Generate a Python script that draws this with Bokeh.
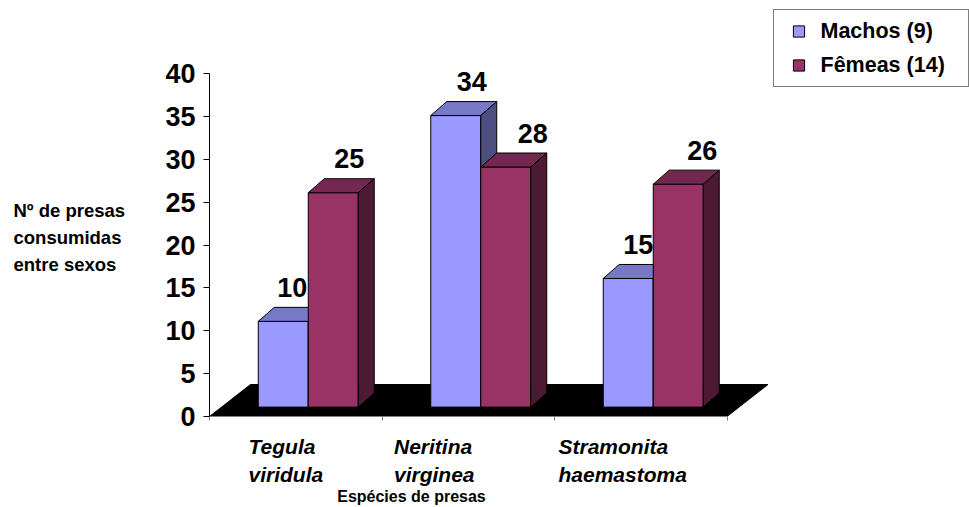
from bokeh.plotting import figure
from bokeh.models import (Range1d, FixedTicker, ColumnDataSource, Label, LabelSet,
                          Legend, LegendItem, LinearAxis)
from bokeh.core.properties import value
from bokeh.embed import file_html
from bokeh.resources import INLINE

# ---- data -------------------------------------------------------------
categories = ["Tegula\nviridula", "Neritina\nvirginea", "Stramonita\nhaemastoma"]
machos = [10, 34, 15]
femeas = [25, 28, 26]
series = ["Machos (9)", "Fêmeas (14)"]
y_ticks = [0, 5, 10, 15, 20, 25, 30, 35, 40]
y_title = ["Nº de presas", "consumidas", "entre sexos"]
x_title = "Espécies de presas"

# ---- layout (pixels) --------------------------------------------------
W, H = 969, 507
ORIGIN_X, ORIGIN_Y = 209, 416   # where the two axes meet on the canvas
PX_CAT = 172.5                  # pixels per category slot
PX_VAL = 8.575                  # pixels per count unit


def dx(px):
    return px / PX_CAT


def dy(px):
    return px / PX_VAL


FONT = "Liberation Sans"
MID = 0.3465                    # "middle" baseline sits this many em above the alphabetic one
MALE = ("#9999FF", "#7878C8", "#4E4E80")     # front, top, side
FEMALE = ("#993366", "#74284F", "#4D1A33")

bar_w = dx(50)
shift_x = dx(12.5)
lift = dy(9.4)
depth_x, depth_y = dx(16), dy(14)
floor_x, floor_y = dx(41), dy(32)
label_gap = dy(10.5)
label_nudge = {"m": [9, 16, 10], "f": [16, 27, 24]}   # px right of the face centre
cat_label_dx = [39, 12, 4]                            # px right of the slot start

n = len(categories)
idx = list(range(n))

p = figure(width=W, height=H, output_backend="svg", toolbar_location=None,
           x_axis_location=None, y_axis_location=None,
           x_range=Range1d(-dx(ORIGIN_X), dx(W - ORIGIN_X)),
           y_range=Range1d(-dy(H - ORIGIN_Y), dy(ORIGIN_Y)),
           min_border=0)
p.outline_line_color = None
p.grid.visible = False
p.background_fill_color = "white"
p.border_fill_color = "white"

# value axis, standing at the first category boundary
yaxis = LinearAxis(fixed_location=0, ticker=FixedTicker(ticks=y_ticks),
                   bounds=(y_ticks[0], y_ticks[-1]))
yaxis.axis_line_color = "black"
yaxis.major_tick_line_color = "black"
yaxis.major_tick_out = 6
yaxis.major_tick_in = 0
yaxis.minor_tick_line_color = None
yaxis.major_label_standoff = 8
yaxis.major_label_text_font = FONT
yaxis.major_label_text_font_style = "bold"
yaxis.major_label_text_font_size = "27px"
yaxis.major_label_text_color = "black"
p.add_layout(yaxis, "left")

# category axis: boundary ticks only
xaxis = LinearAxis(fixed_location=0,
                   ticker=FixedTicker(ticks=[], minor_ticks=list(range(n + 1))),
                   bounds=(0, n))
xaxis.axis_line_color = "#808080"
xaxis.minor_tick_line_color = "#808080"
xaxis.minor_tick_out = 4
xaxis.minor_tick_in = 0
xaxis.major_tick_line_color = None
p.add_layout(xaxis, "below")

# floor of the 3D box
p.patch(x=[0, n, n + floor_x, floor_x], y=[0, 0, floor_y, floor_y],
        fill_color="black", line_color="black")


def draw_bars(vals, colors, side, key, name):
    left = [i + 0.5 + shift_x - (bar_w if side < 0 else 0) for i in idx]
    right = [l + bar_w for l in left]
    bottom = [lift] * n
    top = [lift + v for v in vals]
    # legend swatch, hidden behind the front faces
    swatch = p.scatter(x=[(l + r) / 2 for l, r in zip(left, right)],
                       y=[(b + t) / 2 for b, t in zip(bottom, top)],
                       marker="square", size=11, fill_color=colors[0],
                       line_color="black", line_width=1)
    p.quad(left=left, right=right, bottom=bottom, top=top,
           fill_color=colors[0], line_color="black", line_width=1)
    p.patches(xs=[[l, r, r + depth_x, l + depth_x] for l, r in zip(left, right)],
              ys=[[t, t, t + depth_y, t + depth_y] for t in top],
              fill_color=colors[1], line_color="black", line_width=1)
    p.patches(xs=[[r, r + depth_x, r + depth_x, r] for r in right],
              ys=[[b, b + depth_y, t + depth_y, t] for b, t in zip(bottom, top)],
              fill_color=colors[2], line_color="black", line_width=1)
    src = ColumnDataSource(dict(
        x=[(l + r) / 2 + dx(k) for l, r, k in zip(left, right, label_nudge[key])],
        y=[t + depth_y + label_gap + dy(MID * 27) for t in top],
        t=[str(v) for v in vals]))
    p.text(x="x", y="y", text="t", source=src, text_font=value(FONT),
           text_font_style="bold", text_font_size="27px", text_color="black",
           text_align="center", text_baseline="middle")
    return LegendItem(label=name, renderers=[swatch])


item_m = draw_bars(machos, MALE, -1, "m", series[0])
item_f = draw_bars(femeas, FEMALE, 1, "f", series[1])

# category names, one row per line, left aligned
rows = [c.split("\n") for c in categories]
for line_no, base_px in enumerate([453, 481.7]):
    src = ColumnDataSource(dict(x=[i + dx(d) for i, d in zip(idx, cat_label_dx)],
                                y=[-dy(base_px - ORIGIN_Y - MID * 21)] * n,
                                t=[r[line_no] for r in rows]))
    p.add_layout(LabelSet(x="x", y="y", text="t", source=src,
                          text_font=value(FONT), text_font_style="bold italic",
                          text_font_size="21px", text_color="black",
                          text_align="left", text_baseline="middle"))

# axis titles
p.add_layout(Label(x=dx(411 - ORIGIN_X), y=-dy(502 - ORIGIN_Y - MID * 16), text=x_title,
                   text_font=FONT, text_font_style="bold", text_font_size="16px",
                   text_color="black", text_align="center", text_baseline="middle"))
for k, line in enumerate(y_title):
    base_px = 216 + 27.3 * k
    p.add_layout(Label(x=-dx(ORIGIN_X - 13), y=dy(ORIGIN_Y - base_px + MID * 18.5),
                       text=line, text_font=FONT, text_font_style="bold",
                       text_font_size="18.5px", text_color="black",
                       text_align="left", text_baseline="middle"))

# legend box in the top right corner
legend = Legend(items=[item_m, item_f],
                location=(772.5, H - 87),
                padding=7, spacing=6, glyph_width=35, glyph_height=28,
                label_standoff=5, label_width=140, margin=0,
                label_text_font=FONT, label_text_font_style="bold",
                label_text_font_size="21.5px", label_text_color="black",
                border_line_color="black", border_line_width=1,
                background_fill_color="white", background_fill_alpha=1)
p.add_layout(legend)

open("out.html", "w").write(file_html(p, INLINE))
